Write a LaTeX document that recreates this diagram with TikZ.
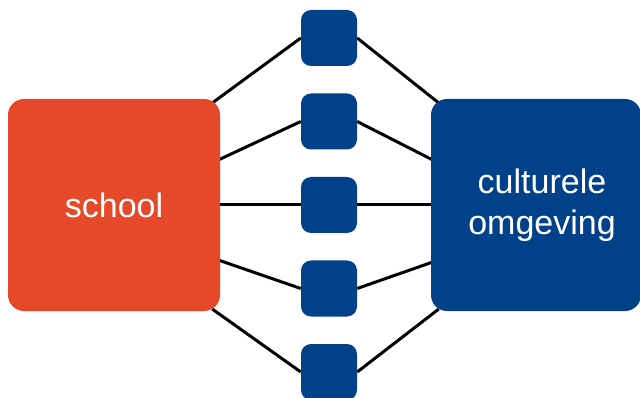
\documentclass[tikz,border=0pt]{standalone}
\usepackage{fontspec}
\setmainfont{Liberation Sans}
\usetikzlibrary{backgrounds}
\definecolor{schoolred}{HTML}{E5492A}
\definecolor{omgblue}{HTML}{00418A}
\newcommand{\schoolcol}{schoolred}
\newcommand{\omgcol}{omgblue}

\begin{document}
\begin{tikzpicture}[x=1pt, y=-1pt,
    bigbox/.style={rounded corners=16pt, minimum width=212pt, minimum height=212pt,
      inner sep=0pt, text=white, align=center, font=\fontsize{34}{41}\selectfont},
    bigtext/.style={text=white, align=center, font=\fontsize{34}{41}\selectfont},
    linkbox/.style={fill=\omgcol, rounded corners=10pt, minimum size=56pt, inner sep=0pt},
    link/.style={draw=black, line width=3pt}]

    \useasboundingbox (0, 0) rectangle (640, 398);

    \node[bigbox, fill=\schoolcol] (school) at (114, 205) {school};
    \node[bigbox, fill=\omgcol, minimum width=210pt,
      label={[bigtext, xshift=6pt]center:culturele\\omgeving}] (omgeving) at (536, 205) {};

    \node[linkbox] (link1) at (329, 38) {};
    \node[linkbox] (link2) at (329, 121.5) {};
    \node[linkbox] (link3) at (329, 205) {};
    \node[linkbox] (link4) at (329, 288.5) {};
    \node[linkbox] (link5) at (329, 372) {};

    \begin{scope}[on background layer]
    \draw[link] ([xshift=-8pt, yshift=102pt]school.east) -- (link1.west);
    \draw[link] ([xshift=-2pt, yshift=45pt]school.east) -- (link2.west);
    \draw[link] ([xshift=-2pt]school.east) -- (link3.west);
    \draw[link] ([xshift=-2pt, yshift=-55pt]school.east) -- (link4.west);
    \draw[link] ([xshift=-8pt, yshift=-104pt]school.east) -- (link5.west);

    \draw[link] (link1.east) -- ([xshift=8pt, yshift=102pt]omgeving.west);
    \draw[link] (link2.east) -- ([xshift=2pt, yshift=45pt]omgeving.west);
    \draw[link] (link3.east) -- ([xshift=2pt]omgeving.west);
    \draw[link] (link4.east) -- ([xshift=2pt, yshift=-57pt]omgeving.west);
    \draw[link] (link5.east) -- ([xshift=8pt, yshift=-104pt]omgeving.west);
    \end{scope}

\end{tikzpicture}
\end{document}
